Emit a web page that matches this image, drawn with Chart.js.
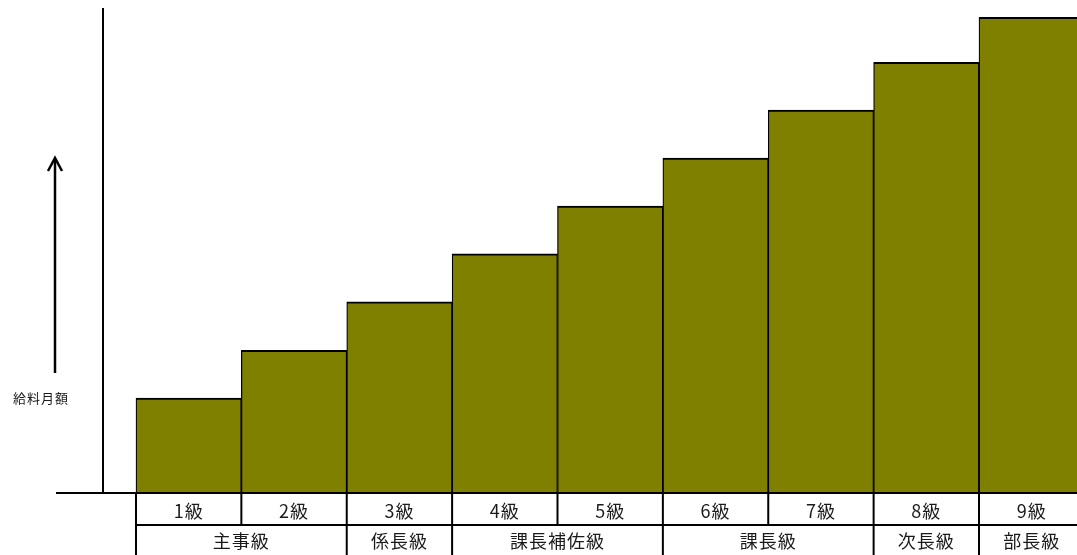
<!DOCTYPE html>
<html>
<head>
<meta charset="utf-8">
<script src="https://cdn.jsdelivr.net/npm/chart.js@4"></script>
<style>
  body { margin: 0; background: #fff; }
  #wrap { width: 1077px; height: 555px; }
</style>
</head>
<body>
<div id="wrap"><canvas id="chart"></canvas></div>
<script>
const grades = ['1級', '2級', '3級', '4級', '5級', '6級', '7級', '8級', '9級'];
const salary = [19.6, 29.5, 39.5, 49.4, 59.3, 69.2, 79.1, 89.0, 98.3];
const groupLabels = ['主事級', '係長級', '課長補佐級', '課長級', '次長級', '部長級'];
const groupFrom = [1, 3, 4, 6, 8, 9];
const groupTo = [2, 3, 5, 7, 8, 9];
const axisLabel = '給料月額';

// x range so that the first bar starts a bit right of the y axis
const xMin = 0.187;
const xMax = 9.43;

const font = '"Noto Sans CJK JP", "Noto Sans", sans-serif';

const tablePlugin = {
  id: 'table',
  afterDraw(chart) {
    const ctx = chart.ctx;
    const x = chart.scales.x;
    const area = chart.chartArea;
    const top = area.bottom;
    const mid = top + 32;
    const bottom = chart.height;
    const edge = (v) => x.getPixelForValue(v);

    ctx.save();
    ctx.strokeStyle = '#000';
    ctx.lineWidth = 2;

    // baseline, also runs left of the y axis
    ctx.beginPath();
    ctx.moveTo(56, top);
    ctx.lineTo(area.right, top);
    ctx.stroke();

    // row divider
    ctx.beginPath();
    ctx.moveTo(edge(0.5), mid);
    ctx.lineTo(area.right, mid);
    ctx.stroke();

    // grade cells
    for (let i = 0; i <= grades.length; i++) {
      const px = edge(i + 0.5);
      if (px > area.right) continue;
      ctx.beginPath();
      ctx.moveTo(px, top);
      ctx.lineTo(px, mid);
      ctx.stroke();
    }
    // group cells
    groupFrom.forEach((f) => {
      const px = edge(f - 0.5);
      ctx.beginPath();
      ctx.moveTo(px, mid);
      ctx.lineTo(px, bottom);
      ctx.stroke();
    });

    ctx.fillStyle = '#1a1a1a';
    ctx.textAlign = 'center';
    ctx.textBaseline = 'middle';
    ctx.font = '18px ' + font;
    ctx.letterSpacing = '1px';
    grades.forEach((g, i) => {
      ctx.fillText(g, edge(i + 1), top + 18);
    });
    groupLabels.forEach((g, i) => {
      const c = (edge(groupFrom[i] - 0.5) + edge(groupTo[i] + 0.5)) / 2;
      ctx.fillText(g, Math.min(c, (edge(groupFrom[i] - 0.5) + area.right) / 2 + 8), mid + 16);
    });

    // arrow and axis label on the left
    ctx.lineWidth = 2.5;
    ctx.beginPath();
    ctx.moveTo(55, 373);
    ctx.lineTo(55, 159);
    ctx.stroke();
    ctx.beginPath();
    ctx.moveTo(48, 171);
    ctx.lineTo(55, 158);
    ctx.lineTo(62, 171);
    ctx.stroke();

    ctx.font = '13px ' + font;
    ctx.letterSpacing = '1px';
    ctx.fillText(axisLabel, 41, 398);
    ctx.restore();
  }
};

new Chart(document.getElementById('chart'), {
  type: 'bar',
  data: {
    datasets: [{
      data: salary.map((v, i) => ({ x: i + 1, y: v })),
      backgroundColor: '#808000',
      borderColor: '#000',
      borderWidth: { top: 2, left: 1.25, right: 1.25, bottom: 0 },
      borderSkipped: false,
      barPercentage: 1,
      categoryPercentage: 1,
    }],
  },
  options: {
    responsive: true,
    maintainAspectRatio: false,
    animation: false,
    layout: { padding: { left: 103, top: 9, right: 0, bottom: 62 } },
    plugins: { legend: { display: false }, tooltip: { enabled: false } },
    scales: {
      x: {
        type: 'linear',
        min: xMin,
        max: xMax,
        offset: false,
        afterBuildTicks: (scale) => {
          scale.ticks = grades.map((g, i) => ({ value: i + 1 }));
        },
        ticks: { display: false },
        grid: { display: false, drawTicks: false },
        border: { display: false },
      },
      y: {
        min: 0,
        max: 100,
        ticks: { display: false },
        grid: { display: false, drawTicks: false },
        border: { display: true, color: '#000', width: 2 },
      },
    },
  },
  plugins: [tablePlugin],
});
</script>
</body>
</html>
